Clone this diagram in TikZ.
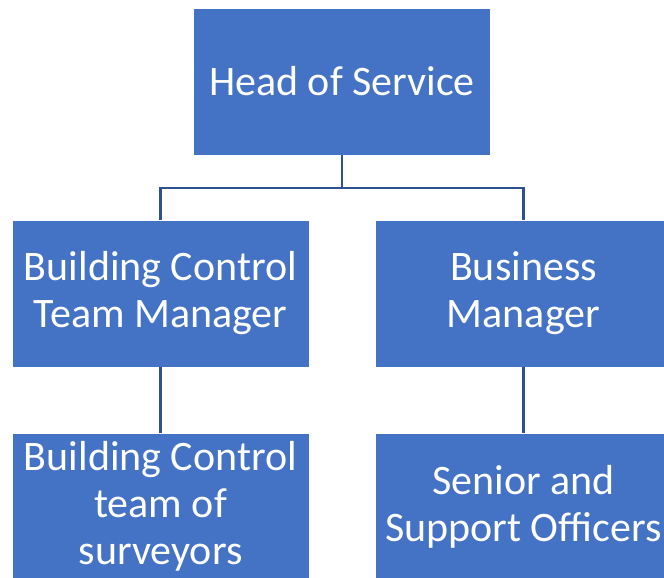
\documentclass[tikz,border=0pt]{standalone}
\usepackage{fontspec}
\setmainfont{Carlito}
\definecolor{boxblue}{HTML}{4472C4}
\definecolor{lineblue}{HTML}{2F528F}
\begin{document}
\begin{tikzpicture}[x=1pt,y=1pt,
  orgbox/.style={fill=boxblue, draw=white, line width=0.8pt, text=white, align=center,
    minimum width=297pt, minimum height=147pt, inner sep=0pt,
    font=\fontsize{42}{47}\selectfont},
  link/.style={draw=lineblue, line width=2.2pt}]
\useasboundingbox (0,0) rectangle (664,-578);
\clip (0,0) rectangle (664,-578);
\node[orgbox] (head) at (342,-81.5) {Head of Service};
\node[orgbox] (bctm) at (160.5,-293.5) {Building Control\\Team Manager};
\node[orgbox] (bm) at (523.5,-293.5) {Business\\Manager};
\node[orgbox] (bcs) at (160.5,-506.5) {Building Control\\team of\\surveyors};
\node[orgbox] (sso) at (523.5,-506.5) {Senior and\\Support Officers};
\coordinate (mid) at (342,-188);
\draw[link] (head.south) -- (mid);
\draw[link] (bctm.north) |- (mid) -| (bm.north);
\draw[link] (bctm.south) -- (bcs.north);
\draw[link] (bm.south) -- (sso.north);
\end{tikzpicture}
\end{document}
